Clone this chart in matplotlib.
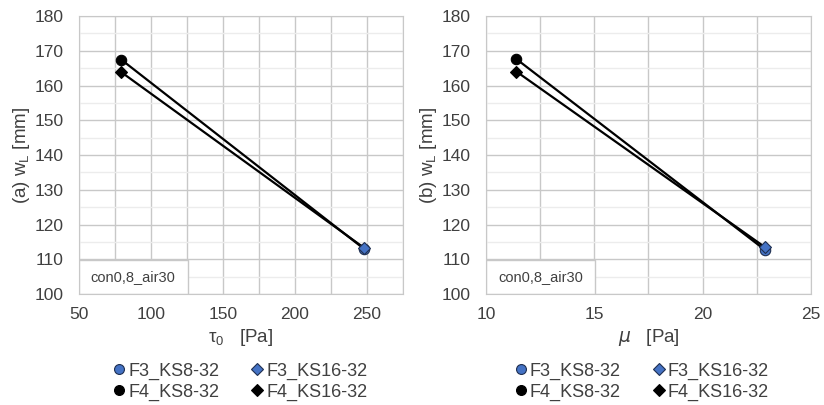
import matplotlib.pyplot as plt
from matplotlib.ticker import MultipleLocator
from matplotlib.patches import Rectangle

plt.rcParams['font.family'] = ['Liberation Sans', 'DejaVu Sans']

# data
labels = ['F3_KS8-32', 'F3_KS16-32', 'F4_KS8-32', 'F4_KS16-32']
tau0 = [248, 248, 79.5, 79.5]          # (a) x values [Pa]
mu = [22.9, 22.9, 11.4, 11.4]          # (b) x values [Pa]
wL_a = [113.0, 113.3, 167.4, 163.8]    # (a) w_L [mm]
wL_b = [112.6, 113.4, 167.6, 164.0]    # (b) w_L [mm]

blue = '#4472C4'
styles = [
    dict(marker='o', color=blue, mec='#1f2f50'),
    dict(marker='D', color=blue, mec='#1f2f50'),
    dict(marker='o', color='black', mec='black'),
    dict(marker='D', color='black', mec='black'),
]
msizes = [7.5, 6, 7.5, 6]
grey = '#404040'

fig = plt.figure(figsize=(8.24, 4.05), dpi=100)
ax1 = fig.add_axes([0.0959, 0.274, 0.393, 0.6865])
ax2 = fig.add_axes([0.590, 0.274, 0.394, 0.6865])


def draw(ax, xs, ys, xlim, xmaj, xmin, ylabel, xlabel):
    # lines from F4 (left) to F3 (right), circle pair and diamond pair
    ax.plot([xs[2], xs[0]], [ys[2], ys[0]], color='black', lw=1.6, zorder=3)
    ax.plot([xs[3], xs[1]], [ys[3], ys[1]], color='black', lw=1.6, zorder=3)
    for i in range(4):
        ax.plot(xs[i], ys[i], linestyle='none', markersize=msizes[i],
                mew=0.8, label=labels[i], zorder=4, **styles[i])
    ax.set_xlim(*xlim)
    ax.set_ylim(100, 180)
    ax.xaxis.set_major_locator(MultipleLocator(xmaj))
    ax.xaxis.set_minor_locator(MultipleLocator(xmin))
    ax.yaxis.set_major_locator(MultipleLocator(10))
    ax.yaxis.set_minor_locator(MultipleLocator(5))
    ax.grid(which='major', color='#c8c8c8', lw=1.0)
    ax.grid(which='minor', axis='x', color='#c8c8c8', lw=1.0)
    ax.grid(which='minor', axis='y', color='#ececec', lw=1.0)
    ax.set_axisbelow(True)
    for s in ax.spines.values():
        s.set_color('#c8c8c8')
    ax.tick_params(which='both', length=0, labelsize=12.5, colors=grey)
    ax.tick_params(axis='x', pad=9)
    ax.tick_params(axis='y', pad=11)
    ax.set_ylabel(ylabel, fontsize=13.5, color=grey, labelpad=2)
    ax.set_xlabel(xlabel, fontsize=13.5, color=grey, labelpad=4)
    # label box sitting in the lower left corner
    ax.add_patch(Rectangle((0, 0), 0.335, 0.122, transform=ax.transAxes,
                           fc='white', ec='#c8c8c8', lw=1, zorder=2))
    ax.text(0.1675, 0.061, 'con0,8_air30', transform=ax.transAxes, fontsize=10.5,
            color=grey, va='center', ha='center', zorder=2.5)


draw(ax1, tau0, wL_a, (50, 275), 50, 25,
     r'(a) w$_\mathregular{L}$ [mm]', r'$\mathregular{\tau_0}$   [Pa]')
draw(ax2, mu, wL_b, (10, 25), 5, 2.5,
     r'(b) w$_\mathregular{L}$ [mm]', r'$\mu$   [Pa]')

for ax, x0 in [(ax1, 0.29), (ax2, 0.777)]:
    h, l = ax.get_legend_handles_labels()
    order = [0, 2, 1, 3]
    fig.legend([h[i] for i in order], [l[i] for i in order],
               loc='upper center', bbox_to_anchor=(x0, 0.145), ncol=2,
               frameon=False, fontsize=13, handletextpad=0.0, handlelength=1.0,
               columnspacing=1.6, labelspacing=0.2, labelcolor=grey,
               markerscale=0.95)

fig.savefig('out.png', dpi=100)
